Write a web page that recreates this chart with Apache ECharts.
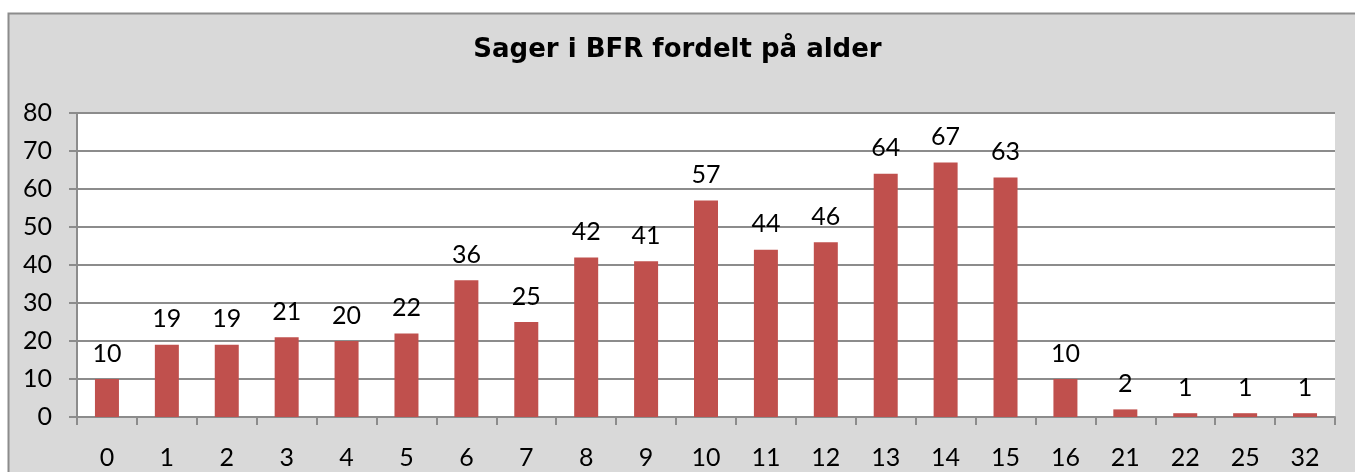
<!DOCTYPE html>
<html>
<head>
<meta charset="utf-8">
<script src="https://cdn.jsdelivr.net/npm/echarts@6/dist/echarts.min.js"></script>
<style>html,body{margin:0;padding:0;background:#fff;}#c{width:1355px;height:472px;}</style>
</head>
<body>
<div id="c"></div>
<script>
var title = 'Sager i BFR fordelt på alder';
var categories = ['0','1','2','3','4','5','6','7','8','9','10','11','12','13','14','15','16','21','22','25','32'];
var values = [10,19,19,21,20,22,36,25,42,41,57,44,46,64,67,63,10,2,1,1,1];
var yTicks = {min:0, max:80, interval:10};

var chart = echarts.init(document.getElementById('c'));
var font = 'Lato';
chart.setOption({
  backgroundColor: '#ffffff',
  animation: false,
  graphic: [{
    type: 'rect', z: -10, silent: true,
    shape: {x: 8.5, y: 13.5, width: 1400, height: 500},
    style: {fill: '#d9d9d9', stroke: '#8c8c8c', lineWidth: 2}
  }],
  title: {
    text: title, left: 'center', top: 32,
    textStyle: {fontFamily: 'DejaVu Sans', fontSize: 26, fontWeight: 'bold', color: '#000'}
  },
  grid: {left: 77, top: 113, right: 20, bottom: 55, show: true, backgroundColor: '#fff', borderWidth: 0},
  xAxis: {
    type: 'category', data: categories,
    axisLine: {show: true, lineStyle: {color: '#8c8c8c', width: 2}},
    axisTick: {show: true, length: 8, lineStyle: {color: '#8c8c8c', width: 2}},
    axisLabel: {fontFamily: font, fontSize: 25, color: '#000', margin: 28}
  },
  yAxis: {
    type: 'value', min: yTicks.min, max: yTicks.max, interval: yTicks.interval,
    axisLine: {show: true, lineStyle: {color: '#8c8c8c', width: 2}},
    axisTick: {show: true, length: 8, lineStyle: {color: '#8c8c8c', width: 2}},
    axisLabel: {fontFamily: font, fontSize: 25, color: '#000', margin: 25},
    splitLine: {show: true, lineStyle: {color: '#8c8c8c', width: 2}}
  },
  series: [{
    type: 'bar', data: values, barWidth: 24,
    itemStyle: {color: '#c0504d'},
    label: {show: true, position: 'top', distance: 13, fontFamily: font, fontSize: 25, color: '#000'}
  }]
});
</script>
</body>
</html>
